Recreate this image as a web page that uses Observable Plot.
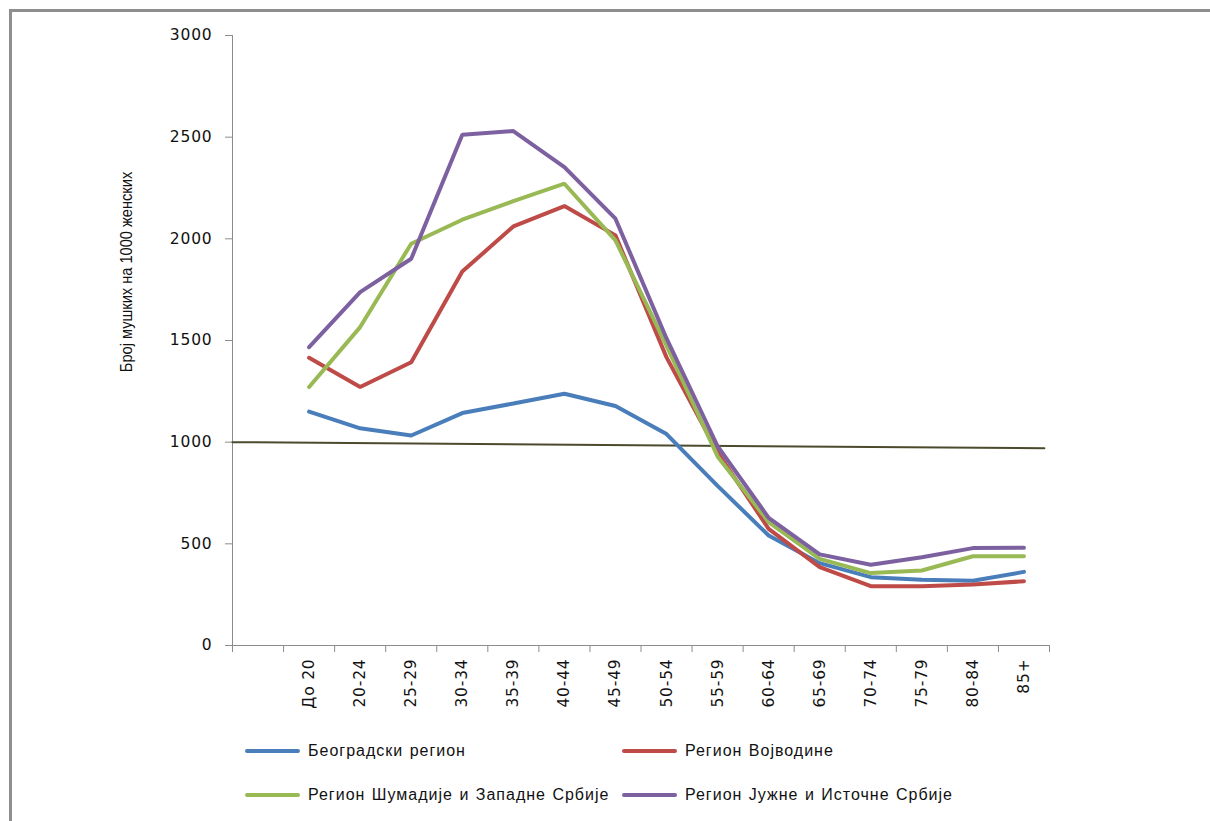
<!DOCTYPE html>
<html>
<head>
<meta charset="utf-8">
<script src="https://cdn.jsdelivr.net/npm/d3@7"></script>
<script src="https://cdn.jsdelivr.net/npm/@observablehq/plot@0.6"></script>
<style>
  html, body { margin: 0; padding: 0; background: #fff; }
  body { width: 1210px; height: 821px; position: relative; overflow: hidden; }
  #frame { position: absolute; left: 9px; top: 9px; width: 1300px; height: 900px;
           border-top: 3px solid #8e8e8e; border-left: 3px solid #8e8e8e; box-sizing: border-box; }
  #chart { position: absolute; left: 0; top: 0; }
  #ylabel { position: absolute; left: 127px; top: 272px; transform: translate(-50%, -50%) rotate(-90deg) scaleX(0.86);
            font-family: "Liberation Sans", Arial, sans-serif; font-size: 17px; color: #111; white-space: nowrap; }
  .leg { position: absolute; display: flex; align-items: center;
         font-family: "Liberation Sans", Arial, sans-serif; font-size: 16px; letter-spacing: 1px; word-spacing: 1px; color: #111; white-space: nowrap; }
  .sw { width: 55px; height: 4px; border-radius: 2px; margin-right: 8px; }
</style>
</head>
<body>
<div id="frame"></div>
<div id="chart"></div>
<div id="ylabel">Број мушких на 1000 женских</div>
<div id="legend"></div>
<script>
const categories = ["До 20","20-24","25-29","30-34","35-39","40-44","45-49","50-54","55-59","60-64","65-69","70-74","75-79","80-84","85+"];
const seriesNames = ["Београдски регион","Регион Војводине","Регион Шумадије и Западне Србије","Регион Јужне и Источне Србије"];
const seriesColors = ["#4a7ebb","#be4b48","#98b954","#7d60a0"];
const beograd   = [1150,1068,1033,1143,1190,1238,1178,1040,785,541,405,336,323,318,362];
const vojvodina = [1415,1271,1393,1839,2061,2161,2017,1417,950,574,385,292,292,300,316];
const sumadija  = [1271,1566,1976,2094,2185,2271,1992,1475,930,607,426,356,369,439,439];
const juzna     = [1467,1738,1902,2512,2530,2353,2099,1510,980,628,448,397,434,479,481];
const yTicks = [0,500,1000,1500,2000,2500,3000];
const refStart = 1000, refEnd = 970;

const allValues = [beograd, vojvodina, sumadija, juzna];
const data = [];
allValues.forEach((vals, s) => vals.forEach((v, i) => data.push({x: i + 1.5, y: v, series: seriesNames[s]})));
const refLine = [{x: 0, y: refStart}, {x: 15.9, y: refEnd}];

const chart = Plot.plot({
  width: 1210, height: 720,
  marginLeft: 232, marginRight: 161, marginTop: 35, marginBottom: 75,
  style: {fontFamily: "DejaVu Sans, Verdana, sans-serif", fontSize: "15.5px", letterSpacing: "0.8px", color: "#111", background: "transparent"},
  x: {type: "linear", domain: [0, 16], axis: null},
  y: {domain: [0, 3000], axis: null},
  color: {domain: seriesNames, range: seriesColors},
  marks: [
    Plot.axisY({ticks: yTicks, tickSize: 7, tickPadding: 13, label: null, stroke: "#8c8c8c", fill: "#111", tickFormat: d => String(d)}),
    Plot.axisX({ticks: d3.range(0, 17), tickSize: 7, tickFormat: () => "", label: null, stroke: "#8c8c8c"}),
    Plot.axisX({ticks: categories.map((_, i) => i + 1.5), tickSize: 0, tickPadding: 13, tickRotate: -90,
                tickFormat: d => categories[Math.round(d - 1.5)], label: null, fill: "#111"}),
    Plot.ruleY([0], {stroke: "#8c8c8c"}),
    Plot.ruleX([0], {stroke: "#8c8c8c"}),
    Plot.line(refLine, {x: "x", y: "y", stroke: "#4b4a2c", strokeWidth: 2}),
    Plot.line(data, {x: "x", y: "y", z: "series", stroke: "series", strokeWidth: 4, strokeLinejoin: "miter"})
  ]
});
document.getElementById("chart").appendChild(chart);

const legendPos = [[245, 752], [622, 752], [245, 796], [622, 796]];
const legend = document.getElementById("legend");
seriesNames.forEach((name, i) => {
  const el = document.createElement("div");
  el.className = "leg";
  el.style.left = legendPos[i][0] + "px";
  el.style.top = (legendPos[i][1] - 10) + "px";
  el.innerHTML = `<div class="sw" style="background:${seriesColors[i]}"></div><span>${name}</span>`;
  legend.appendChild(el);
});
</script>
</body>
</html>
